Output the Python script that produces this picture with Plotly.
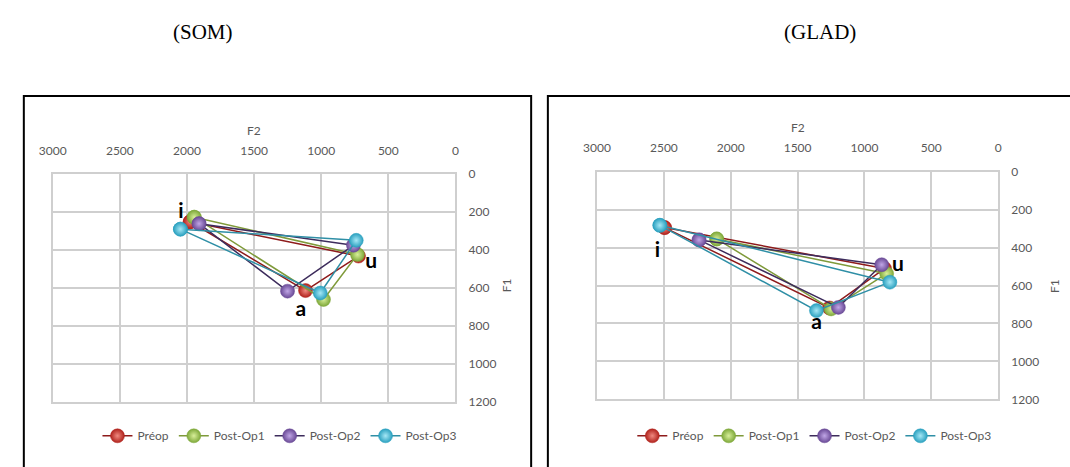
import plotly.graph_objects as go

W, H = 1070, 467

vowels = ["i", "u", "a"]
series_names = ["Préop", "Post-Op1", "Post-Op2", "Post-Op3"]

# SOM panel (F2, F1) per series, points in order i, u, a
som_f2 = {
    "Préop":    [1976, 722, 1117],
    "Post-Op1": [1946, 730, 983],
    "Post-Op2": [1910, 760, 1251],
    "Post-Op3": [2049, 739, 1007],
}
som_f1 = {
    "Préop":    [251, 432, 614],
    "Post-Op1": [227, 424, 661],
    "Post-Op2": [261, 375, 617],
    "Post-Op3": [290, 349, 627],
}
# GLAD panel
glad_f2 = {
    "Préop":    [2495, 850, 1262],
    "Post-Op1": [2105, 834, 1249],
    "Post-Op2": [2237, 871, 1195],
    "Post-Op3": [2530, 810, 1359],
}
glad_f1 = {
    "Préop":    [294, 510, 718],
    "Post-Op1": [354, 537, 723],
    "Post-Op2": [359, 490, 715],
    "Post-Op3": [282, 582, 732],
}
# vowel label positions (F2, F1)
som_label_f2 = [2045, 627, 1152]
som_label_f1 = [205, 468, 720]
glad_label_f2 = [2548, 750, 1357]
glad_label_f1 = [420, 497, 803]

x_ticks = [3000, 2500, 2000, 1500, 1000, 500, 0]
y_ticks = [0, 200, 400, 600, 800, 1000, 1200]
panel_titles = ["(SOM)", "(GLAD)"]

line_colors = {"Préop": "#8e1b1b", "Post-Op1": "#7f9a3a", "Post-Op2": "#3d2c5c", "Post-Op3": "#2f8fa6"}
edge_colors = {"Préop": "#b0221c", "Post-Op1": "#7ea83a", "Post-Op2": "#6a4a96", "Post-Op3": "#2aa0bf"}
center_colors = {"Préop": "#f08a80", "Post-Op1": "#d8ef9a", "Post-Op2": "#c0a6e6", "Post-Op3": "#a6e8f6"}

FONT = "Lato, 'Open Sans', sans-serif"
TICKC = "#595959"
GRID = "#cfcfcf"

fig = go.Figure()

def px_x(v):
    return v / W

def px_y(v):
    return 1 - v / H

panels = [
    dict(f2=som_f2, f1=som_f1, xa="x", ya="y", legend="legend"),
    dict(f2=glad_f2, f1=glad_f1, xa="x2", ya="y2", legend="legend2"),
]
for p in panels:
    for name in series_names:
        xs = p["f2"][name] + p["f2"][name][:1]
        ys = p["f1"][name] + p["f1"][name][:1]
        fig.add_trace(go.Scatter(
            x=xs, y=ys, mode="lines+markers", name=name,
            xaxis=p["xa"], yaxis=p["ya"], legend=p["legend"],
            line=dict(color=line_colors[name], width=1.5),
            marker=dict(size=14, color=edge_colors[name],
                        gradient=dict(type="radial", color=center_colors[name]),
                        line=dict(width=0.5, color=edge_colors[name])),
        ))

# label traces
for xa, ya, lx, ly in [("x", "y", som_label_f2, som_label_f1), ("x2", "y2", glad_label_f2, glad_label_f1)]:
    fig.add_trace(go.Scatter(
        x=lx, y=ly, mode="text", text=vowels, showlegend=False, xaxis=xa, yaxis=ya,
        textfont=dict(family=FONT, size=21, color="black", weight="bold"), hoverinfo="skip",
    ))

def xaxis_cfg(domain, anchor):
    return dict(domain=domain, anchor=anchor, side="top", range=[3000, 0], tickvals=x_ticks,
                showgrid=True, gridcolor=GRID, gridwidth=1.5, zeroline=False,
                showline=True, linecolor=GRID, linewidth=1.5, mirror=True,
                ticks="outside", ticklen=13, tickcolor="rgba(0,0,0,0)",
                tickfont=dict(family=FONT, size=12, color=TICKC))

def yaxis_cfg(domain, anchor):
    return dict(domain=domain, anchor=anchor, side="right", range=[1200, 0], tickvals=y_ticks,
                showgrid=True, gridcolor=GRID, gridwidth=1.5, zeroline=False,
                showline=True, linecolor=GRID, linewidth=1.5, mirror=True,
                ticks="outside", ticklen=9, tickcolor="rgba(0,0,0,0)",
                tickfont=dict(family=FONT, size=12, color=TICKC))

fig.update_layout(
    width=W, height=H, margin=dict(l=0, r=0, t=0, b=0),
    paper_bgcolor="white", plot_bgcolor="white",
    xaxis=xaxis_cfg([px_x(39.4), px_x(449)], "y"),
    yaxis=yaxis_cfg([px_y(406.7), px_y(171.7)], "x"),
    xaxis2=xaxis_cfg([px_x(593), px_x(1001)], "y2"),
    yaxis2=yaxis_cfg([px_y(404.3), px_y(169.3)], "x2"),
    legend=dict(orientation="h", x=px_x(270), xanchor="center", y=px_y(442), yanchor="middle",
                font=dict(family=FONT, size=12, color=TICKC), bgcolor="rgba(0,0,0,0)"),
    legend2=dict(orientation="h", x=px_x(814), xanchor="center", y=px_y(442), yanchor="middle",
                 font=dict(family=FONT, size=12, color=TICKC), bgcolor="rgba(0,0,0,0)"),
    showlegend=True,
)

# frames
fig.add_shape(type="rect", xref="paper", yref="paper", x0=px_x(10), x1=px_x(526), y0=-0.1, y1=px_y(91),
              line=dict(color="black", width=2))
fig.add_shape(type="rect", xref="paper", yref="paper", x0=px_x(543), x1=1.1, y0=-0.1, y1=px_y(91),
              line=dict(color="black", width=2))

# axis titles and panel titles
ann = [
    dict(text="F2", x=px_x(244), y=px_y(127)),
    dict(text="F2", x=px_x(797), y=px_y(123)),
    dict(text="F1", x=px_x(501), y=px_y(287), textangle=-90),
    dict(text="F1", x=px_x(1059), y=px_y(287), textangle=-90),
]
for a in ann:
    fig.add_annotation(xref="paper", yref="paper", showarrow=False, xanchor="center", yanchor="middle",
                       font=dict(family=FONT, size=12, color=TICKC), **a)
for t, cx in zip(panel_titles, [192, 820]):
    fig.add_annotation(xref="paper", yref="paper", showarrow=False, text=t, x=px_x(cx), y=px_y(25),
                       xanchor="center", yanchor="middle",
                       font=dict(family="'Liberation Serif', 'DejaVu Serif', serif", size=21, color="black"))

fig.write_html("out.html", config={"displayModeBar": False},
               post_script="document.body.style.margin='0';document.body.style.overflow='hidden';")
